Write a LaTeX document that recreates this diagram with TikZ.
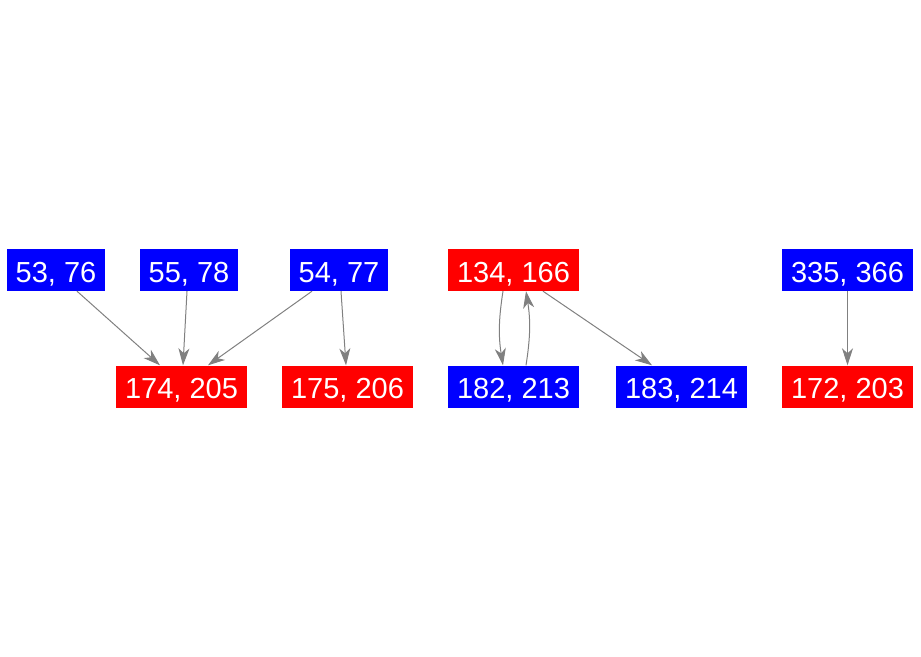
\documentclass[tikz,border=0pt]{standalone}
\usepackage{fontspec}
\setmainfont{Liberation Sans}
\usetikzlibrary{arrows.meta}

\begin{document}
\begin{tikzpicture}[x=1pt,y=-1pt,
    box/.style={inner xsep=9pt, inner ysep=0pt, minimum height=42pt,
        text height=24pt, text depth=0pt,
        text=white, font=\fontsize{29}{30}\selectfont},
    bluebox/.style={box, fill=blue},
    redbox/.style={box, fill=red},
    edge/.style={draw=gray, line width=1pt,
        -{Stealth[length=17pt,width=11pt,inset=5pt]}}]

    \useasboundingbox (0,0) rectangle (921,656);

    %Top row
    \foreach \x/\name/\descr/\col in {56/a/{53, 76}/bluebox, 189/b/{55, 78}/bluebox,
        339/c/{54, 77}/bluebox, 513.5/f/{134, 166}/redbox, 847.5/j/{335, 366}/bluebox}
    \node[\col] (\name) at (\x,270) {\descr};

    %Bottom row
    \foreach \x/\name/\descr/\col in {181.5/d/{174, 205}/redbox, 347.5/e/{175, 206}/redbox,
        513.5/g/{182, 213}/bluebox, 681.5/h/{183, 214}/bluebox, 847.5/k/{172, 203}/redbox}
    \node[\col] (\name) at (\x,386.5) {\descr};

    %Edges
    \draw[edge] ([xshift=21pt]a.south) -- ([xshift=-21.5pt]d.north);
    \draw[edge] ([xshift=-2pt]b.south) -- ([xshift=1.5pt]d.north);
    \draw[edge] ([xshift=-27pt]c.south) -- ([xshift=26.5pt]d.north);
    \draw[edge] ([xshift=2pt]c.south) -- ([xshift=-1.5pt]e.north);
    \draw[edge] ([xshift=-10.5pt]f.south) to[bend right=9] ([xshift=-10.5pt]g.north);
    \draw[edge] ([xshift=12.5pt]g.north) to[bend right=9] ([xshift=12.5pt]f.south);
    \draw[edge] ([xshift=29.5pt]f.south) -- ([xshift=-29.5pt]h.north);
    \draw[edge] (j) -- (k);

\end{tikzpicture}
\end{document}
